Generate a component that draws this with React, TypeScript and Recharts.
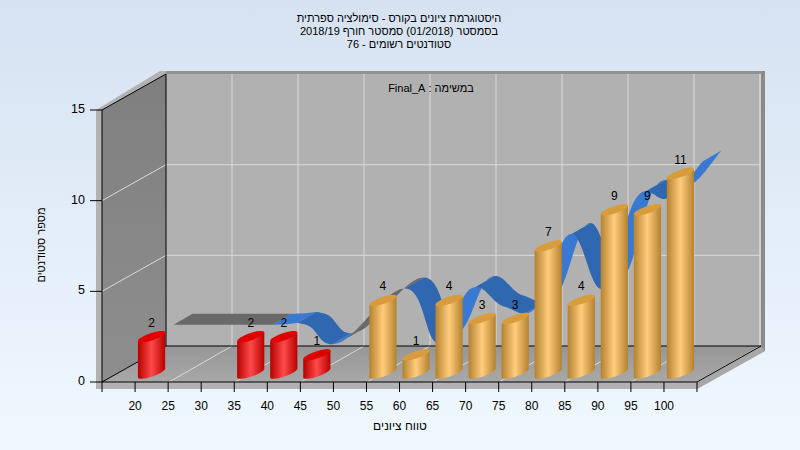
import React from 'react';
import { ComposedChart, Bar, Line, XAxis, YAxis, LabelList, Customized } from 'recharts';

const grades = ['15', '20', '25', '30', '35', '40', '45', '50', '55', '60', '65', '70', '75', '80', '85', '90', '95', '100'];
const students = [0, 2, 0, 0, 2, 2, 1, 0, 4, 1, 4, 3, 3, 7, 4, 9, 9, 11];
const curve = [null, 2.5, null, null, 2.5, 2.5, 1.5, null, 4.5, 1.5, 4.5, 3.5, 3.5, 7.5, 4.5, 9.5, 9.5, 11.5];
const yTicks = [0, 5, 10, 15];
const titleLines = [
  'היסטוגרמת ציונים בקורס - סימולציה ספרתית',
  'בסמסטר  (01/2018)  סמסטר חורף 2018/19',
  'סטודנטים רשומים - 76',
];

const chartData = grades.map((grade, i) => ({ grade, students: students[i], curve: curve[i] }));

const FONT = '"Liberation Sans", Arial, sans-serif';
const PASS_FROM = 55;
const BAND = 33;

// frame of the fake 3D box
const LEFT = 102;
const RIGHT = 697;
const TOP = 110;
const FLOOR = 382;
const DX = 64;
const DY = 36;
const UNIT = (FLOOR - TOP) / 15;

// ribbon sits in the back part of the box
const RIBBON_SHIFT = [22, -12];
const RIBBON_DEPTH = [19, -11];
const TENSION = 0.6;

const BAR_LIFT = 9;
const RX = 14.3;
const RY = 3.6;
const TILT = -19;
const EDGE_X = 13.6;
const EDGE_Y = 4.4;

const Walls = () => {
  const gridX: number[] = [];
  for (let x = LEFT + 66; x < RIGHT; x += 66) gridX.push(x);
  const gridY = [5, 10];
  const gridStroke = '#d9d9d9';
  return (
    <g>
      <defs>
        <linearGradient id="sideWall" x1="0" y1="0" x2="0" y2="1">
          <stop offset="0" stopColor="#7f7f7f" />
          <stop offset="1" stopColor="#8e8e8e" />
        </linearGradient>
        <linearGradient id="floorFill" x1="0" y1="0" x2="0" y2="1">
          <stop offset="0" stopColor="#969696" />
          <stop offset="1" stopColor="#a8a8a8" />
        </linearGradient>
        <linearGradient id="gold" x1="0" y1="0" x2="1" y2="0">
          <stop offset="0" stopColor="#b4812f" />
          <stop offset="0.5" stopColor="#ffcd7c" />
          <stop offset="1" stopColor="#b4812f" />
        </linearGradient>
        <linearGradient id="crimson" x1="0" y1="0" x2="1" y2="0">
          <stop offset="0" stopColor="#b80000" />
          <stop offset="0.5" stopColor="#ff4a4a" />
          <stop offset="1" stopColor="#b80000" />
        </linearGradient>
      </defs>
      {/* rim around the box */}
      <polygon points={`96,${TOP} ${LEFT + DX - 6},${TOP - DY - 3} ${RIGHT + DX + 4},${TOP - DY - 3} ${RIGHT + DX + 4},${FLOOR - DY + 5} ${RIGHT},${FLOOR + 7} 96,${FLOOR + 7}`} fill="#b2b2b2" />
      <rect x={LEFT + DX} y={TOP - DY - 3} width={RIGHT - LEFT + 4} height={3} fill="#929292" />
      <rect x={RIGHT + DX} y={TOP - DY - 3} width={4} height={FLOOR - TOP + 8} fill="#8a8a8a" />
      <polygon points={`${RIGHT},${FLOOR} ${RIGHT + DX},${FLOOR - DY} ${RIGHT + DX + 4},${FLOOR - DY + 5} ${RIGHT},${FLOOR + 7}`} fill="#a8a8a8" />
      {/* back wall */}
      <rect x={LEFT + DX} y={TOP - DY} width={RIGHT - LEFT} height={FLOOR - TOP} fill="#b1b1b1" />
      {/* left wall */}
      <polygon points={`${LEFT},${TOP} ${LEFT + DX},${TOP - DY} ${LEFT + DX},${FLOOR - DY} ${LEFT},${FLOOR}`} fill="url(#sideWall)" />
      {/* floor */}
      <polygon points={`${LEFT},${FLOOR} ${LEFT + DX},${FLOOR - DY} ${RIGHT + DX},${FLOOR - DY} ${RIGHT},${FLOOR}`} fill="url(#floorFill)" />
      {gridX.map((x) => (
        <g key={x} stroke={gridStroke}>
          <line x1={x + DX} y1={TOP - DY} x2={x + DX} y2={FLOOR - DY} />
          <line x1={x + 1} y1={FLOOR} x2={x + DX} y2={FLOOR - DY} />
        </g>
      ))}
      <line x1={RIGHT + DX - 1} y1={TOP - DY} x2={RIGHT + DX - 1} y2={FLOOR - DY} stroke={gridStroke} />
      {gridY.map((v) => (
        <g key={v} stroke={gridStroke}>
          <line x1={LEFT + DX} y1={FLOOR - DY - v * UNIT} x2={RIGHT + DX} y2={FLOOR - DY - v * UNIT} />
          <line x1={LEFT} y1={FLOOR - v * UNIT} x2={LEFT + DX} y2={FLOOR - DY - v * UNIT} />
        </g>
      ))}
      <g stroke="#000" fill="none">
        <line x1={LEFT + DX} y1={TOP - DY} x2={LEFT + DX} y2={FLOOR - DY} />
        <line x1={LEFT + DX} y1={FLOOR - DY} x2={RIGHT + DX} y2={FLOOR - DY} />
        <line x1={LEFT} y1={TOP} x2={LEFT + DX} y2={TOP - DY} />
        <line x1={LEFT} y1={FLOOR} x2={LEFT + DX} y2={FLOOR - DY} />
        <line x1={RIGHT} y1={FLOOR} x2={RIGHT + DX} y2={FLOOR - DY} />
      </g>
    </g>
  );
};

const Captions = () => (
  <g fontFamily={FONT} fill="#000" fontSize={11}>
    {titleLines.map((line, i) => (
      <text key={i} x={399} y={22 + i * 13} textAnchor="middle" direction="rtl">{line}</text>
    ))}
    <text x={431} y={92} textAnchor="middle" direction="rtl">במשימה : Final_A</text>
    <text x={400} y={430} textAnchor="middle" direction="rtl" fontSize={12}>טווח ציונים</text>
    <text x={45} y={245} textAnchor="middle" direction="rtl" transform="rotate(-90 45 245)">מספר סטודנטים</text>
  </g>
);

// cardinal spline through the non-empty points; runs of one shade become one polygon
const Ribbon = ({ points }: { points: any[] }) => {
  const pts = points
    .map((p, i) => ({ x: p.x + RIBBON_SHIFT[0], y: p.y == null ? null : p.y + RIBBON_SHIFT[1], i }))
    .filter((p) => p.y != null) as { x: number; y: number; i: number }[];
  const [ox, oy] = RIBBON_DEPTH;
  const runs: { fill: string; edge: { x: number; y: number }[] }[] = [];
  for (let s = 0; s < pts.length - 1; s++) {
    const p0 = pts[s];
    const p1 = pts[s + 1];
    const before = pts[s - 1] || p0;
    const after = pts[s + 2] || p1;
    const k = TENSION / 3;
    const c0 = { x: p0.x + (p1.x - before.x) * k, y: p0.y + (p1.y - before.y) * k };
    const c1 = { x: p1.x - (after.x - p0.x) * k, y: p1.y - (after.y - p0.y) * k };
    const isGap = p1.i - p0.i > 1;
    const at = (t: number) => {
      const u = 1 - t;
      return {
        x: u * u * u * p0.x + 3 * u * u * t * c0.x + 3 * u * t * t * c1.x + t * t * t * p1.x,
        y: u * u * u * p0.y + 3 * u * u * t * c0.y + 3 * u * t * t * c1.y + t * t * t * p1.y,
      };
    };
    const steps = 24;
    for (let n = 0; n < steps; n++) {
      const a = at(n / steps);
      const b = at((n + 1) / steps);
      const fill = isGap ? '#696969' : b.y < a.y ? '#3a79d2' : '#2f67b1';
      const last = runs[runs.length - 1];
      if (last && last.fill === fill) last.edge.push(b);
      else runs.push({ fill, edge: [a, b] });
    }
  }
  return (
    <g>
      {runs.map((run, r) => {
        const front = run.edge.map((p) => `${p.x},${p.y}`);
        const back = [...run.edge].reverse().map((p) => `${p.x + ox},${p.y + oy}`);
        return <polygon key={r} points={[...front, ...back].join(' ')} fill={run.fill} />;
      })}
    </g>
  );
};

const renderRibbonDot = (props: any) => {
  if (props.index !== 1) return <g key={props.index} />;
  return <Ribbon key="ribbon" points={props.points} />;
};

const Cylinder = (props: any) => {
  const { x, y, width, height, payload } = props;
  if (!payload.students) return <g />;
  const failed = Number(payload.grade) < PASS_FROM;
  const cx = x + width / 2;
  const top = y - BAR_LIFT;
  const bottom = y + height - BAR_LIFT;
  const body = `M${cx - EDGE_X},${top + EDGE_Y} L${cx - EDGE_X},${bottom + EDGE_Y} A${RX},${RY} ${TILT} 0 0 ${cx + EDGE_X},${bottom - EDGE_Y} L${cx + EDGE_X},${top - EDGE_Y} Z`;
  return (
    <g>
      <path d={body} fill={failed ? 'url(#crimson)' : 'url(#gold)'} />
      <ellipse cx={cx} cy={top} rx={RX} ry={RY} transform={`rotate(${TILT} ${cx} ${top})`} fill={failed ? '#e00000' : '#d99c3c'} />
    </g>
  );
};

const XTick = (props: any) => {
  const { x, y, payload, index } = props;
  const left = x - BAND / 2;
  const isLast = index === grades.length - 1;
  return (
    <g>
      <line x1={left} y1={FLOOR} x2={left} y2={FLOOR + 10} stroke="#000" />
      {isLast && <line x1={left + BAND} y1={FLOOR} x2={left + BAND} y2={FLOOR + 10} stroke="#000" />}
      {index > 0 && (
        <text x={left} y={y + 20} textAnchor="middle" fontFamily={FONT} fontSize={12} fill="#000">{payload.value}</text>
      )}
    </g>
  );
};

const YTick = (props: any) => {
  const { x, y, payload } = props;
  return (
    <text x={x - 3} y={y + 3} textAnchor="end" fontFamily={FONT} fontSize={12.5} fill="#000">{payload.value}</text>
  );
};

export default function App() {
  return (
    <div style={{ position: 'absolute', left: 0, top: 0, width: 800, height: 450, background: 'linear-gradient(180deg, #d6e2f2 0%, #f0f8ff 100%)' }}>
      <ComposedChart
        width={800}
        height={450}
        data={chartData}
        margin={{ top: TOP, right: 800 - RIGHT, bottom: 0, left: 0 }}
        barSize={27}
      >
        <Customized component={Walls} />
        <XAxis
          dataKey="grade"
          interval={0}
          height={450 - FLOOR}
          axisLine={{ stroke: '#000' }}
          tickLine={false}
          tick={XTick}
        />
        <YAxis
          width={LEFT}
          domain={[0, 15]}
          ticks={yTicks}
          axisLine={{ stroke: '#000' }}
          tickLine={{ stroke: '#000' }}
          tickSize={12}
          tick={YTick}
        />
        <Line
          dataKey="curve"
          stroke="none"
          connectNulls
          dot={renderRibbonDot}
          activeDot={false}
          isAnimationActive={false}
          zIndex={100}
        />
        <Bar dataKey="students" shape={Cylinder} isAnimationActive={false} zIndex={900}>
          <LabelList
            dataKey="students"
            position="top"
            offset={19}
            fontFamily={FONT}
            fontSize={12}
            fill="#000"
            formatter={(v: any) => (v > 0 ? v : '')}
          />
        </Bar>
        <Customized component={Captions} />
      </ComposedChart>
    </div>
  );
}
